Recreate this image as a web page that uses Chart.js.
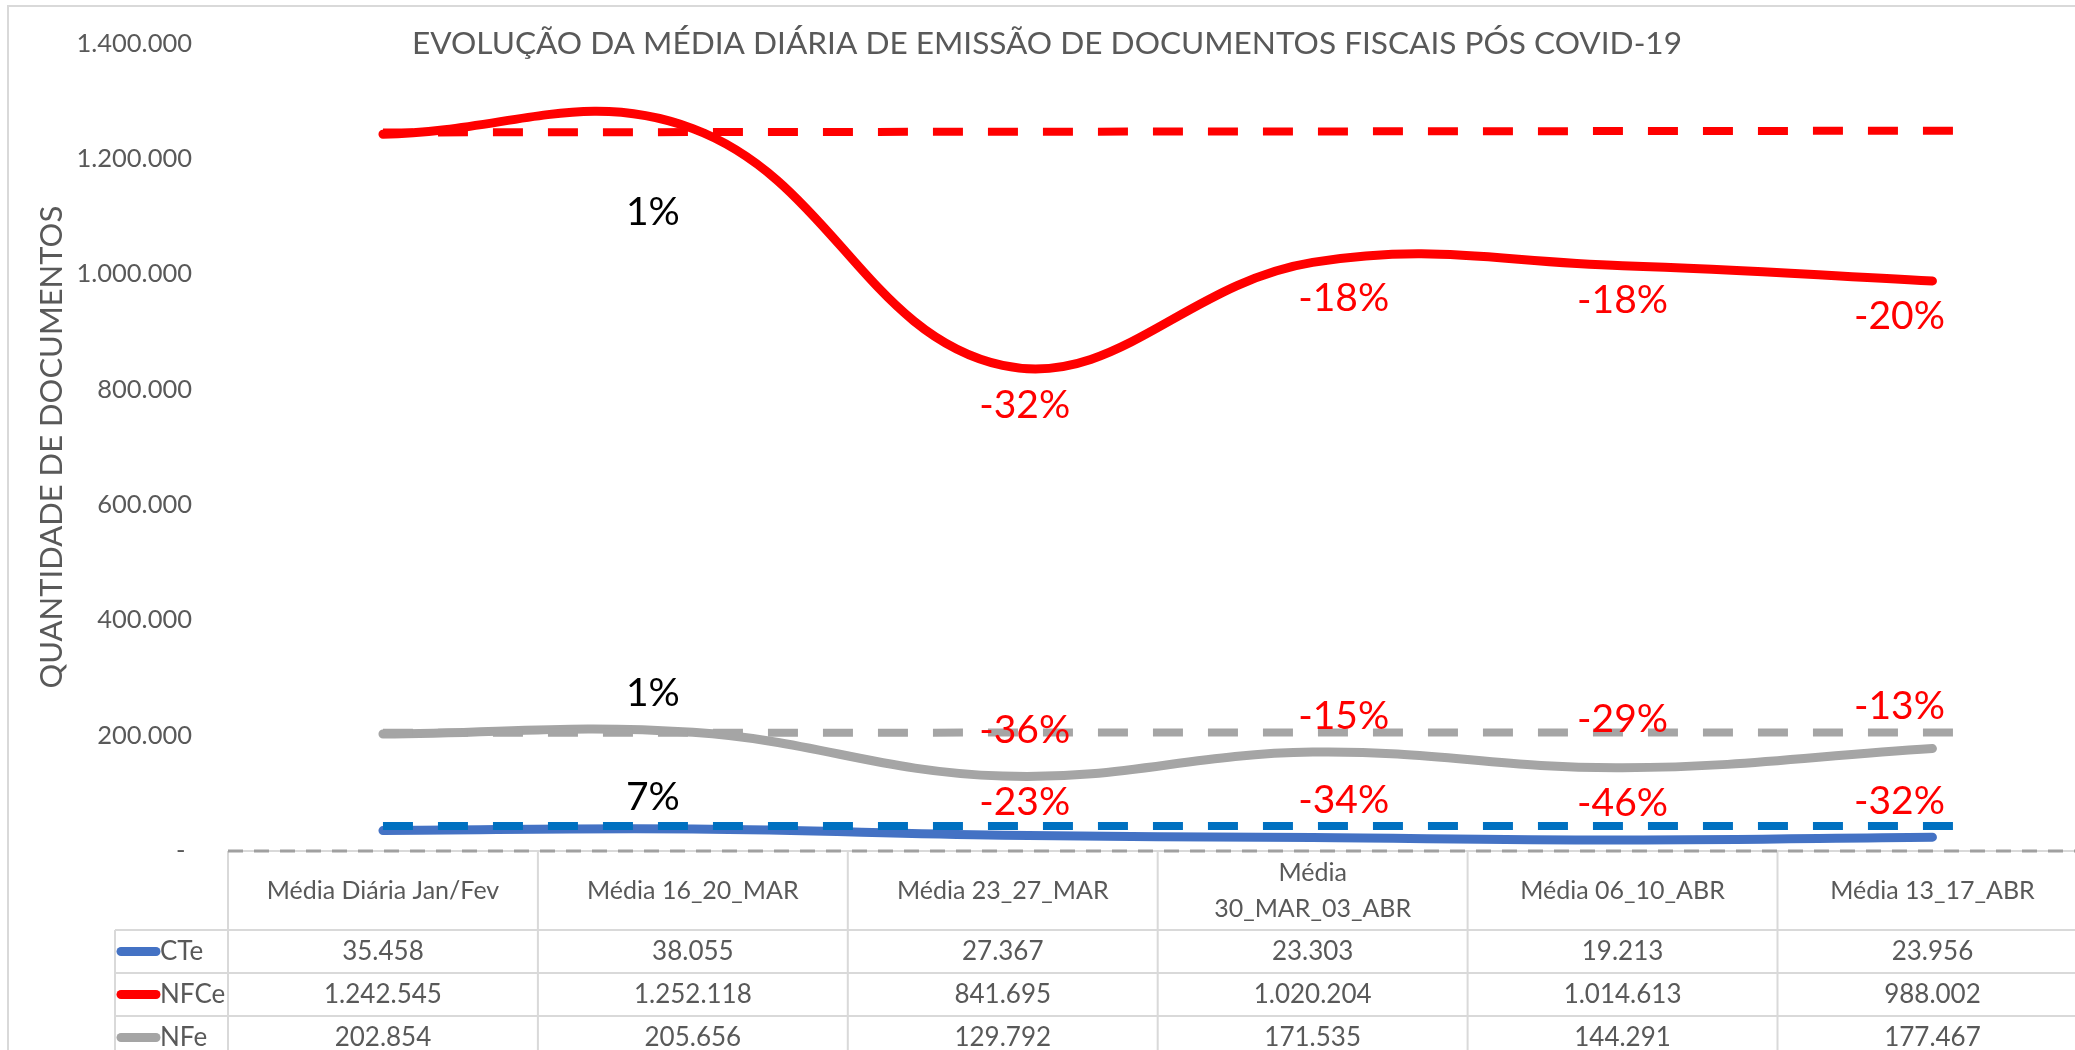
<!DOCTYPE html>
<html>
<head>
<meta charset="utf-8">
<script src="https://cdn.jsdelivr.net/npm/chart.js@4.4.1/dist/chart.umd.min.js"></script>
<style>
  html, body { margin: 0; padding: 0; background: #fff; }
  canvas { display: block; }
</style>
</head>
<body>
<canvas id="chart" width="2075" height="1050"></canvas>
<script>
// Données
const periodes = ['Média Diária Jan/Fev', 'Média 16_20_MAR', 'Média 23_27_MAR', 'Média 30_MAR_03_ABR', 'Média 06_10_ABR', 'Média 13_17_ABR'];
const cte = [35458, 38055, 27367, 23303, 19213, 23956];
const nfce = [1242545, 1252118, 841695, 1020204, 1014613, 988002];
const nfe = [202854, 205656, 129792, 171535, 144291, 177467];

// Lignes de référence en pointillés (début et fin)
const refX = [0, 5.09];
const refCte = [43500, 43500];
const refNfce = [1245500, 1248500];
const refNfe = [205000, 205500];

// Variations en pourcentage
const pctCte = ['', '7%', '-23%', '-34%', '-46%', '-32%'];
const pctNfce = ['', '1%', '-32%', '-18%', '-18%', '-20%'];
const pctNfe = ['', '1%', '-36%', '-15%', '-29%', '-13%'];

// Graduations de l'axe Y
const yTicks = [0, 200000, 400000, 600000, 800000, 1000000, 1200000, 1400000];

// Décalages des étiquettes (pixels)
const labelDx = [0, -40, 22, 31, 0, -33];
const dyNfce = [0, 84, 40, 36, 35, 35];
const dyNfe = [0, -39, -46, -36, -48, -42];
const dyCte = [0, -32, -33, -37, -36, -36];

const fmt = v => String(v).replace(/\B(?=(\d{3})+(?!\d))/g, '.');
const pts = arr => arr.map((v, i) => ({ x: i, y: v }));
const refPts = arr => arr.map((v, i) => ({ x: refX[i], y: v }));

const series = [
    { name: 'CTe', data: cte, color: '#4472C4', pct: pctCte, dy: dyCte },
    { name: 'NFCe', data: nfce, color: '#FF0000', pct: pctNfce, dy: dyNfce },
    { name: 'NFe', data: nfe, color: '#A5A5A5', pct: pctNfe, dy: dyNfe }
];

const TEXT = '#595959';
const GRID = '#D9D9D9';

// Plugin pour le titre, les étiquettes et le tableau de données
const extras = {
    id: 'extras',
    beforeDraw(chart) {
        const ctx = chart.ctx;
        ctx.save();
        ctx.fillStyle = '#fff';
        ctx.fillRect(0, 0, chart.width, chart.height);
        // bordure du graphique
        ctx.strokeStyle = GRID;
        ctx.lineWidth = 2;
        ctx.beginPath();
        ctx.moveTo(8, chart.height);
        ctx.lineTo(8, 6);
        ctx.lineTo(chart.width, 6);
        ctx.stroke();
        ctx.restore();
    },
    afterDatasetsDraw(chart) {
        const ctx = chart.ctx;
        const x = chart.scales.x;
        const y = chart.scales.y;
        ctx.save();

        // titre
        ctx.font = '31.6px Lato';
        ctx.fillStyle = TEXT;
        ctx.textAlign = 'center';
        ctx.textBaseline = 'middle';
        ctx.fillText('EVOLUÇÃO DA MÉDIA DIÁRIA DE EMISSÃO DE DOCUMENTOS FISCAIS PÓS COVID-19', 1047, 44);

        // étiquettes de pourcentage
        ctx.font = '39px Lato';
        series.forEach(s => {
            s.pct.forEach((p, i) => {
                if (!p) return;
                ctx.fillStyle = p.startsWith('-') ? '#FF0000' : '#000000';
                ctx.fillText(p, x.getPixelForValue(i) + labelDx[i], y.getPixelForValue(s.data[i]) + s.dy[i]);
            });
        });

        // tableau de données
        const top = y.getPixelForValue(0);
        const headerH = 79;
        const rowH = 43;
        const legendLeft = 115;
        const colLeft = x.getPixelForValue(-0.5);
        const right = x.getPixelForValue(5.5);
        const bottom = top + headerH + rowH * series.length;

        ctx.strokeStyle = GRID;
        ctx.lineWidth = 2;
        ctx.beginPath();
        ctx.moveTo(colLeft, top); ctx.lineTo(right, top);
        for (let r = 0; r <= series.length; r++) {
            const yy = top + headerH + r * rowH;
            ctx.moveTo(legendLeft, yy); ctx.lineTo(right, yy);
        }
        ctx.moveTo(legendLeft, top + headerH); ctx.lineTo(legendLeft, bottom);
        for (let c = 0; c <= periodes.length; c++) {
            const xx = x.getPixelForValue(c - 0.5);
            ctx.moveTo(xx, top); ctx.lineTo(xx, bottom);
        }
        ctx.stroke();

        // ligne zéro en pointillés
        ctx.strokeStyle = '#A0A0A0';
        ctx.lineWidth = 3;
        ctx.setLineDash([15, 11]);
        ctx.beginPath();
        ctx.moveTo(colLeft, top); ctx.lineTo(chart.width, top);
        ctx.stroke();
        ctx.setLineDash([]);

        // en-têtes
        ctx.font = '25px Lato';
        ctx.fillStyle = TEXT;
        ctx.textAlign = 'center';
        periodes.forEach((p, i) => {
            const cx = x.getPixelForValue(i);
            const cy = top + headerH / 2;
            if (p === 'Média 30_MAR_03_ABR') {
                ctx.fillText('Média', cx, cy - 18);
                ctx.fillText('30_MAR_03_ABR', cx, cy + 18);
            } else {
                ctx.fillText(p, cx, cy);
            }
        });

        // lignes du tableau
        ctx.font = '26px Lato';
        series.forEach((s, r) => {
            const cy = top + headerH + r * rowH + rowH / 2;
            ctx.strokeStyle = s.color;
            ctx.lineWidth = 9;
            ctx.lineCap = 'round';
            ctx.beginPath();
            ctx.moveTo(121, cy); ctx.lineTo(156, cy);
            ctx.stroke();
            ctx.textAlign = 'left';
            ctx.fillStyle = TEXT;
            ctx.fillText(s.name, 160, cy);
            ctx.textAlign = 'center';
            s.data.forEach((v, i) => ctx.fillText(fmt(v), x.getPixelForValue(i), cy));
        });

        ctx.restore();
    }
};

const solid = s => ({
    label: s.name,
    data: pts(s.data),
    borderColor: s.color,
    borderWidth: 9,
    borderCapStyle: 'round',
    borderJoinStyle: 'round',
    tension: 0.4,
    pointRadius: 0,
    order: 2
});

const dashed = (data, color) => ({
    label: '',
    data: refPts(data),
    borderColor: color,
    borderWidth: 8,
    borderDash: [30, 25],
    borderCapStyle: 'butt',
    tension: 0,
    pointRadius: 0,
    order: 1
});

new Chart(document.getElementById('chart'), {
    type: 'line',
    data: {
        datasets: [
            dashed(refNfce, '#FF0000'),
            dashed(refNfe, '#A5A5A5'),
            dashed(refCte, '#0070C0'),
            ...series.map(solid)
        ]
    },
    options: {
        responsive: false,
        devicePixelRatio: 1,
        animation: false,
        layout: { padding: { top: 37, left: 0, right: 0, bottom: 199 } },
        plugins: {
            legend: { display: false },
            tooltip: { enabled: false }
        },
        scales: {
            x: {
                type: 'linear',
                min: -0.5,
                max: 5.46,
                display: false
            },
            y: {
                min: 0,
                max: 1400000,
                afterBuildTicks: axis => { axis.ticks = yTicks.map(v => ({ value: v })); },
                afterFit: axis => { axis.width = 228; },
                grid: { display: false },
                border: { display: false },
                ticks: {
                    padding: 28,
                    color: TEXT,
                    font: { family: 'Lato', size: 25.5 },
                    callback: v => v === 0 ? '- ' : fmt(v)
                },
                title: {
                    display: true,
                    text: 'QUANTIDADE DE DOCUMENTOS',
                    color: TEXT,
                    font: { family: 'Lato', size: 31 },
                    padding: { top: 33, bottom: 0 }
                }
            }
        }
    },
    plugins: [extras]
});
</script>
</body>
</html>
